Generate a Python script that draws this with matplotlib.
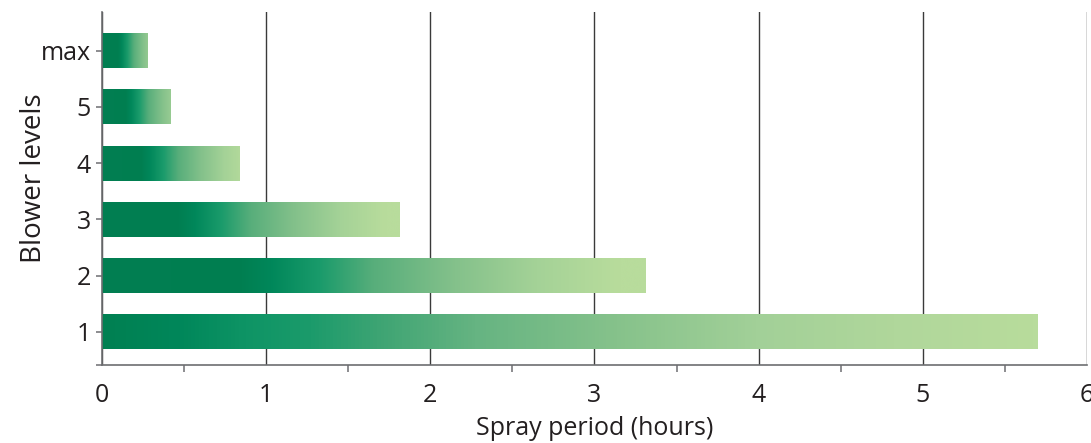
import numpy as np
import matplotlib.pyplot as plt
from matplotlib.colors import LinearSegmentedColormap

# --- Data ---
levels = ['1', '2', '3', '4', '5', 'max']
spray_hours = [5.70, 3.31, 1.81, 0.835, 0.42, 0.28]

plt.rcParams['font.family'] = ['Open Sans', 'DejaVu Sans']

# gradients: dark green at the start of a bar, light green at the end
base_cmap = LinearSegmentedColormap.from_list('base', [
    (0.00, '#027f52'),
    (0.25, '#007e50'),
    (0.31, '#00875a'),
    (0.40, '#1a9b6b'),
    (0.50, '#58ae7b'),
    (0.65, '#84c18b'),
    (0.80, '#a4d297'),
    (0.95, '#b8dc9c'),
    (1.00, '#b8dc9c'),
])
long_cmap = LinearSegmentedColormap.from_list('long', [
    (0.00, '#008052'),
    (0.08, '#00875a'),
    (0.15, '#0e9465'),
    (0.22, '#1b9b6b'),
    (0.30, '#40a574'),
    (0.40, '#66b482'),
    (0.55, '#86c28b'),
    (0.70, '#a2d098'),
    (0.85, '#b0d79b'),
    (1.00, '#b8dc9c'),
])
# how far along the gradient each bar goes, and which gradient it uses
grad_end = [1.0, 1.0, 1.0, 0.9, 0.74, 0.72]
bar_cmaps = [long_cmap, base_cmap, base_cmap, base_cmap, base_cmap, base_cmap]

fig = plt.figure(figsize=(10.91, 4.43), dpi=100)
ax = fig.add_axes([0.0935, 0.176, 0.9028, 0.797])

bar_h = 0.62
for i, val in enumerate(spray_hours):
    grad = np.linspace(0, grad_end[i], 256).reshape(1, -1)
    ax.imshow(grad, extent=[0, val, i - bar_h / 2, i + bar_h / 2], aspect='auto',
              cmap=bar_cmaps[i], vmin=0, vmax=1, interpolation='bicubic', zorder=2)

ax.set_xlim(0, 6)
ax.set_ylim(-0.59, 5.69)
ax.set_xticks(range(7))
ax.set_xticks(np.arange(0.5, 6, 1), minor=True)
ax.set_yticks(range(len(levels)))
ax.set_yticklabels(levels)
ax.set_yticks([-0.59], minor=True)

ax.grid(axis='x', which='major', color='#3a3a3a', linewidth=1.0, zorder=1)
ax.set_axisbelow(True)

for s in ['top', 'right']:
    ax.spines[s].set_visible(False)
for s in ['left', 'bottom']:
    ax.spines[s].set_color('#6d6e71')
    ax.spines[s].set_linewidth(1.2)

ax.tick_params(axis='x', which='major', length=0, pad=13, labelsize=18, labelcolor='#231f20')
ax.tick_params(axis='x', which='minor', length=5, width=1.1, color='#6d6e71', direction='out')
ax.tick_params(axis='y', which='both', length=4, width=1.1, color='#6d6e71', pad=4,
               labelsize=18, labelcolor='#231f20')

ax.set_xlabel('Spray period (hours)', fontsize=18, color='#231f20', labelpad=6)
ax.set_ylabel('Blower levels', fontsize=20, color='#231f20')
ax.yaxis.set_label_coords(-0.055, 0.53)

fig.savefig('out.png', dpi=100)
